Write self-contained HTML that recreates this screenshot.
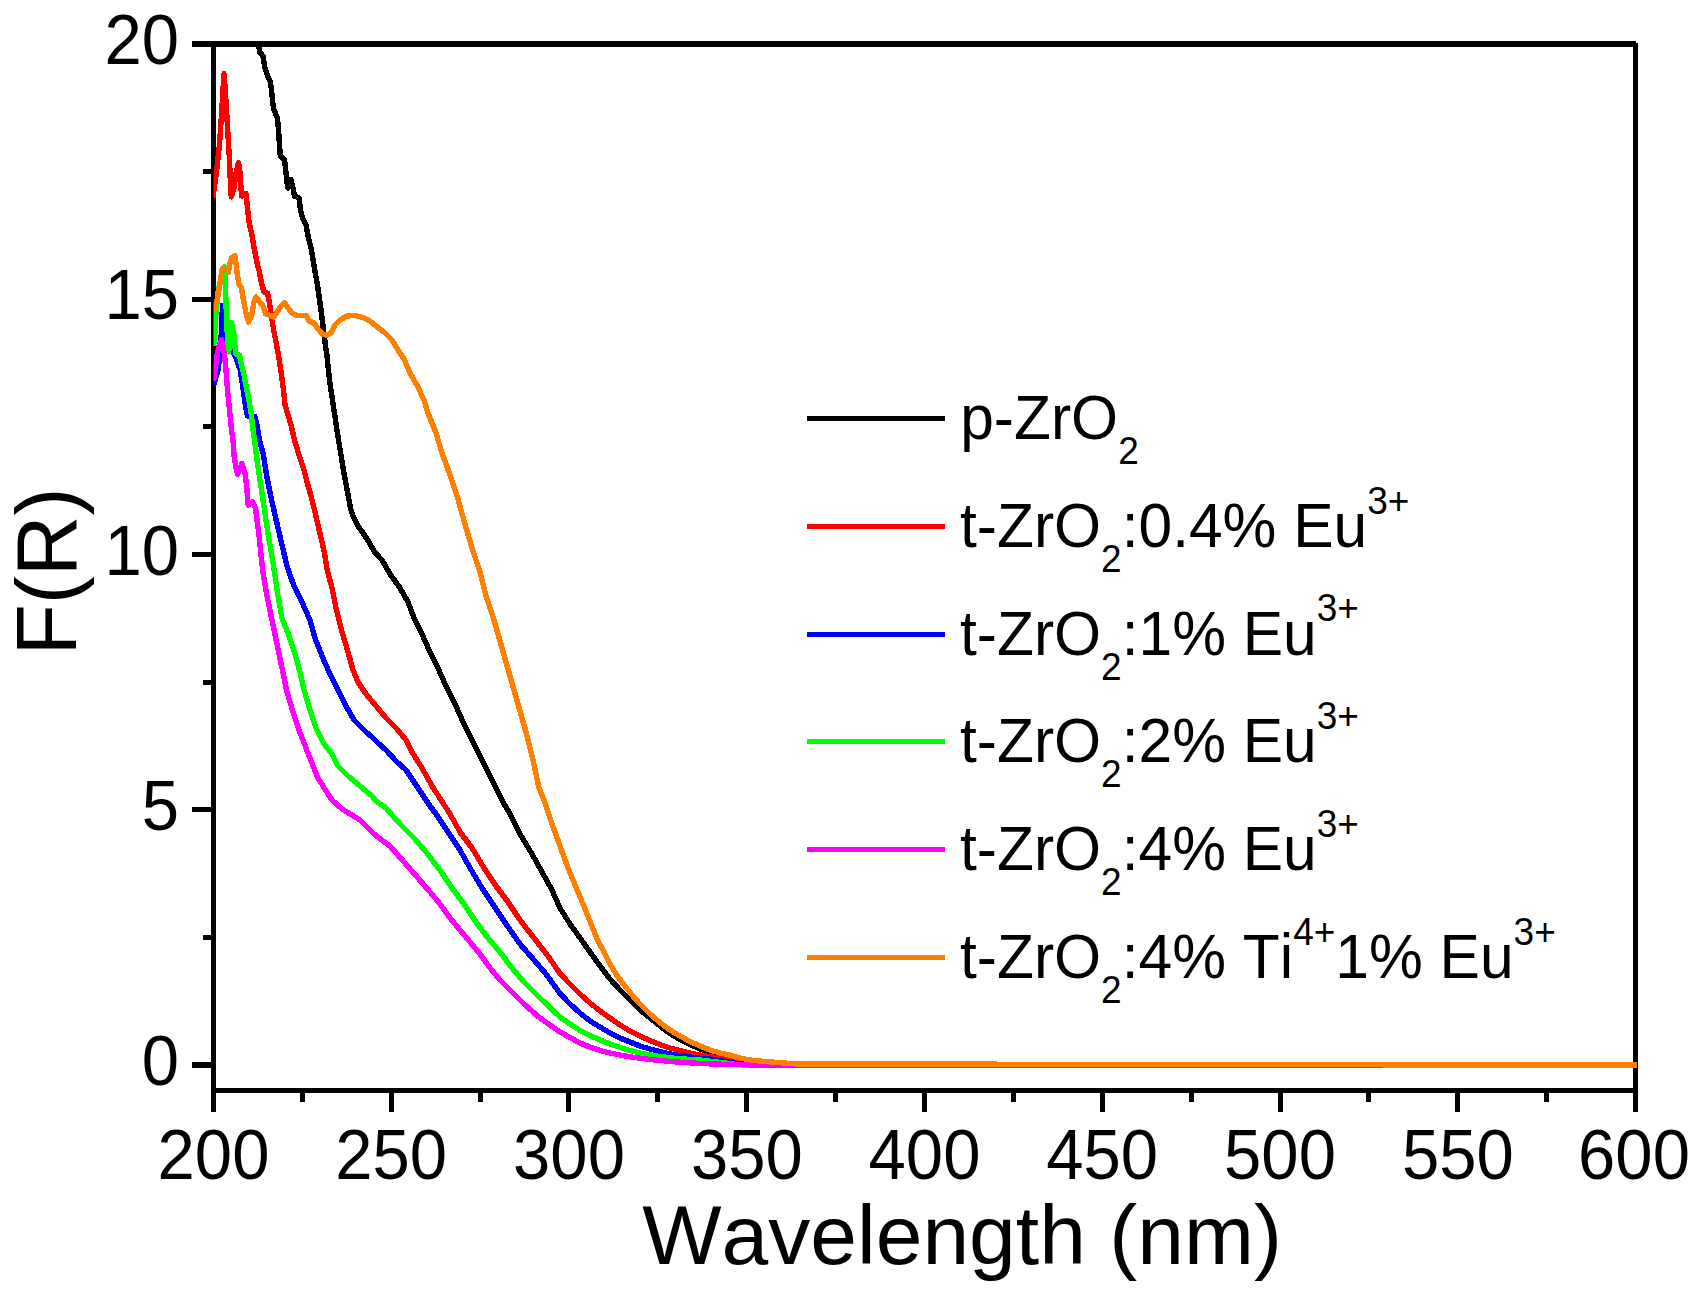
<!DOCTYPE html>
<html lang="en">
<head>
<meta charset="utf-8">
<title>F(R) vs Wavelength</title>
<style>
html,body{margin:0;padding:0;background:#ffffff;}
body{width:1702px;height:1297px;overflow:hidden;}
svg{display:block;}
text{font-family:'Liberation Sans', sans-serif;fill:#000;font-kerning:none;}
.tick{font-size:67px;}
.leg{font-size:60.5px;}
.title{font-size:84px;}
.ss{font-size:37px;}
</style>
</head>
<body>
<svg width="1702" height="1297" viewBox="0 0 1702 1297">
<rect x="0" y="0" width="1702" height="1297" fill="#ffffff"/>
<defs><clipPath id="plotclip"><rect x="213.5" y="44" width="1423.5" height="1046"/></clipPath></defs>

<g fill="#000000" shape-rendering="crispEdges">
<rect x="192" y="41" width="1444" height="6"/>
<rect x="211" y="41" width="5" height="1071"/>
<rect x="1633" y="43" width="5" height="1069"/>
<rect x="211" y="1088" width="1427" height="5"/>
<rect x="192" y="1062" width="20" height="6"/>
<rect x="192" y="807" width="20" height="5"/>
<rect x="192" y="552" width="20" height="5"/>
<rect x="192" y="297" width="20" height="5"/>
<rect x="203" y="935" width="9" height="5"/>
<rect x="203" y="680" width="9" height="5"/>
<rect x="203" y="424" width="9" height="5"/>
<rect x="203" y="169" width="9" height="5"/>
<rect x="300" y="1090" width="5" height="12"/>
<rect x="389" y="1090" width="5" height="22"/>
<rect x="478" y="1090" width="5" height="12"/>
<rect x="566" y="1090" width="5" height="22"/>
<rect x="655" y="1090" width="5" height="12"/>
<rect x="744" y="1090" width="5" height="22"/>
<rect x="833" y="1090" width="5" height="12"/>
<rect x="922" y="1090" width="5" height="22"/>
<rect x="1011" y="1090" width="5" height="12"/>
<rect x="1100" y="1090" width="5" height="22"/>
<rect x="1189" y="1090" width="5" height="12"/>
<rect x="1278" y="1090" width="5" height="22"/>
<rect x="1366" y="1090" width="5" height="12"/>
<rect x="1455" y="1090" width="5" height="22"/>
<rect x="1544" y="1090" width="5" height="12"/>
</g>
<g clip-path="url(#plotclip)" fill="none" stroke-width="5.4" stroke-linejoin="round" stroke-linecap="butt" shape-rendering="crispEdges">
<polyline stroke="#000000" points="258.5,42 259.5,52 263,56 265,68 267.5,76 270.5,82 272,95 273.5,109 277.5,118 278.5,130 279.5,145 280.3,156 284.5,159.5 286,173 287,182 288,188 291,179.5 293,188 294.5,196 299,198 300.5,210 302.5,218 306,225 308.5,238 311.5,250 314.5,269 317,282 319,296 321,310 323,326 325,342 327,356 329.5,380 332.5,400 335.5,420 338.5,440 341.5,458 344.5,476 347.5,492 350.5,508 353,516 358,526 363,533 369,542 374.5,552 382,560 390,574 400,588 408,602 414,618 422,634 430,652 438,668 446,686 455,704 464,724 474,744 484,764 496,788 503,802 510,814 520,834 532,854 542,872 552,890 560,908 570,924 581.5,940 590,952 600,966 610,979 620,990 630,1000 640,1010 650,1018 660,1026 670,1033.5 680,1039.5 690,1044.5 700,1049 710,1052.5 720,1055.5 736,1059.5 760,1062.5 790,1064 1637,1065"/>
<polyline stroke="#ff0000" points="212.8,198 215.5,179 217.5,163 219.5,145 221.5,115 223,90 224,73.5 225.3,90 226.5,110 228,135 229.5,160 230.5,185 231.3,197 234,188 236,173 238.5,162.5 240,173 241,188 241.7,196 246,193.5 247.5,208 249,222 252,235 254.5,250 257.5,265 259,270 261.5,283 264,292 267.5,293 269,300 270.5,310 272,320 274,332 276,342 278.5,355 281.5,375 283.5,390 285,405 288,415 291,425 294.5,440 299,455 303.5,468 307,482 311,496 314.5,510 318,525 321.5,540 324.5,553 327,569 332,588 336,608 342,632 348,652 353,670 358,682 366,694 376,706 386,718 396,728 406,740 412,752 422,768 432,786 441,800 450,814 460,832 472,848 484,868 496,886 508,902 520,920 534,938 548,956 560,973.5 570,984 580,994 590,1003 600,1011 610,1018 620,1025 630,1031 640,1036 650,1040.5 660,1044.5 670,1048 680,1050.5 690,1053 700,1055 710,1056.8 720,1058 740,1063 770,1064.6 800,1065 1637,1065"/>
<polyline stroke="#0000ff" points="213.5,386 214.5,383 218,370 220,355 221,340 221.8,322 222.5,305.5 223.5,325 225.5,340 228.5,349 232,350.5 236.5,359 240.2,370 242.5,385 244.7,400 246.2,410 247.5,416 251,417 255,416.5 257,425 259.5,440 263.5,455 266.5,475 270.5,495 275,515 278.5,530 282,545 287.5,568 294,586 302,602 310,620 315,638 322,656 329,672 338,690 346,706 354,720 366,732 372,737 378,743 386,750 396,761 406,770 414,782 422,794 430,806 436,814 448,832 460,850 470,868 482,888 494,906 506,924 520,944 534,960 546,974 560,993.5 570,1004 580,1013 590,1021 600,1027 610,1033 620,1038 630,1042 640,1046 650,1049 660,1051.5 670,1054 680,1055.5 690,1057 700,1058.2 710,1059 740,1064 780,1065.2 810,1065.8 830,1065.3 1637,1065"/>
<polyline stroke="#00ff00" points="213.5,346 214.5,338 216,312 218,292 221,277 224.8,266.5 225.3,280 225.9,300 226.6,320 227.6,340 228.7,352 230.3,336 231.5,322.5 234,335 235,347 236,354 239.5,355 241.5,365 244,375 246.5,388 249,400 251,412 252.5,425 254.5,440 257,460 260,480 263,500 266,520 269,540 271,550 274,569 278,596 282,618 289,636 295,654 300,672 304,690 310,710 316,728 324,744 332,754 338,766 348,776 360,786 372,796 376,801 386,808 400,824 414,838 426,852 440,870 452,888 464,904 476,922 488,938 500,952 512,968 524,982 540,998 560,1017 570,1024 580,1030.5 590,1035.5 600,1040 610,1044 620,1047.5 630,1050.5 640,1053 650,1055 660,1056.5 670,1057.8 680,1058.8 700,1060 740,1064.8 780,1065.2 1637,1065"/>
<polyline stroke="#ff00ff" points="213.5,381 214.5,375 217,355 219.5,344.5 221.5,339.5 223,346 224.5,355 226,370 227.5,390 229.5,410 231.5,430 233,440 234,455 235.5,465 237.5,474.5 240,468 242,463.5 245,473 246.5,485 247.5,496 248.2,505 250,504 252.5,501.5 255.5,508 257,520 259,535 260.5,550 262.5,569 267,596 272,620 277,644 282,668 287,692 293,712 299,730 306,748 313,766 318,778 328,794 332,800 342,809 360,820 374,834 390,846 404,862 418,878 430,892 440,904 450,918 460,930 470,942 480,954 490,968 500,980 512,992 524,1004 540,1018 560,1032 570,1037.5 580,1043 590,1047 600,1050.5 610,1053 620,1055 630,1056.8 640,1058.2 650,1059.5 660,1060.5 680,1062.2 700,1063.5 729.6,1064.5 760,1065 900,1065.3 1637,1065.6"/>
<polyline stroke="#ff8000" points="213.5,311 215,307 218,296 220.5,280 222,270 223.5,267.5 226.5,270 228.5,272 230,263 232,257.5 235,255.5 236.2,265 237.5,276 239,284 241.5,288 243.5,300 246,313 248.5,322 252,314 254,302 256,297 260,302 263,306 265.5,314 269,315 274,317 277,312 281,306 284.5,302.5 288,308 292,313 297,315.5 306,315.5 309,321 314,323 318,329 323,334.5 327,335 331,333 335,325 340,320 347,316 355,315.5 363,317.5 370,321 376,326 384,332 392,340 398,350 404,359 410,373 418,387 424,400 428,413 436,433 442,453 450,475 458,499 464,521 472,548 480,572 486,596 494,620 502,648 510,676 518,704 526,732 533,760 539,788 544,800 552,824 560,846 568,868 578,892 588,916 597.5,940 604,952 610,964 616,974 624,985 632,995 640,1004 650,1014 660,1022.5 670,1030 680,1036 690,1041.5 700,1046 710,1050 720,1053 729.6,1055 740,1058 750,1060 765,1061.5 780,1062.7 795,1063.8 860,1064 1637,1065.2"/>
</g>
<g class="tick" text-anchor="middle">
<text transform="translate(213.5,1178.5) scale(1,1.04)">200</text>
<text transform="translate(391.2,1178.5) scale(1,1.04)">250</text>
<text transform="translate(569.0,1178.5) scale(1,1.04)">300</text>
<text transform="translate(746.8,1178.5) scale(1,1.04)">350</text>
<text transform="translate(924.5,1178.5) scale(1,1.04)">400</text>
<text transform="translate(1102.2,1178.5) scale(1,1.04)">450</text>
<text transform="translate(1280.0,1178.5) scale(1,1.04)">500</text>
<text transform="translate(1457.8,1178.5) scale(1,1.04)">550</text>
<text transform="translate(1634.0,1178.5) scale(1,1.04)">600</text>
</g>
<g class="tick" text-anchor="end">
<text transform="translate(179,1085.0) scale(1,1.04)">0</text>
<text transform="translate(179,829.8) scale(1,1.04)">5</text>
<text transform="translate(179,574.5) scale(1,1.04)">10</text>
<text transform="translate(179,319.2) scale(1,1.04)">15</text>
<text transform="translate(179,64.0) scale(1,1.04)">20</text>
</g>
<text class="title" x="642.3" y="1264">Wavelength (nm)</text>
<text class="title" transform="translate(76,655.5) rotate(-90) scale(1,1.02)">F(R)</text>
<g shape-rendering="crispEdges">
<rect x="807" y="416" width="138" height="5" fill="#000000"/>
<rect x="807" y="524" width="138" height="5" fill="#ff0000"/>
<rect x="807" y="632" width="138" height="5" fill="#0000ff"/>
<rect x="807" y="739" width="138" height="5" fill="#00ff00"/>
<rect x="807" y="847" width="138" height="5" fill="#ff00ff"/>
<rect x="807" y="955" width="138" height="5" fill="#ff8000"/>
</g>
<text class="leg" transform="translate(960.2,439.0) scale(1,1.04)">p-ZrO<tspan class="ss" dy="24">2</tspan></text>
<text class="leg" transform="translate(960,546.8) scale(1,1.04)">t-ZrO<tspan class="ss" dy="24">2</tspan><tspan dy="-24">:0.4% Eu</tspan><tspan class="ss" dy="-32">3+</tspan></text>
<text class="leg" transform="translate(960,654.6) scale(1,1.04)">t-ZrO<tspan class="ss" dy="24">2</tspan><tspan dy="-24">:1% Eu</tspan><tspan class="ss" dy="-32">3+</tspan></text>
<text class="leg" transform="translate(960,762.4) scale(1,1.04)">t-ZrO<tspan class="ss" dy="24">2</tspan><tspan dy="-24">:2% Eu</tspan><tspan class="ss" dy="-32">3+</tspan></text>
<text class="leg" transform="translate(960,870.2) scale(1,1.04)">t-ZrO<tspan class="ss" dy="24">2</tspan><tspan dy="-24">:4% Eu</tspan><tspan class="ss" dy="-32">3+</tspan></text>
<text class="leg" transform="translate(960,978.0) scale(1,1.04)">t-ZrO<tspan class="ss" dy="24">2</tspan><tspan dy="-24">:4% Ti</tspan><tspan class="ss" dy="-32">4+</tspan><tspan dy="32">1% Eu</tspan><tspan class="ss" dy="-32">3+</tspan></text>
</svg>
</body>
</html>
